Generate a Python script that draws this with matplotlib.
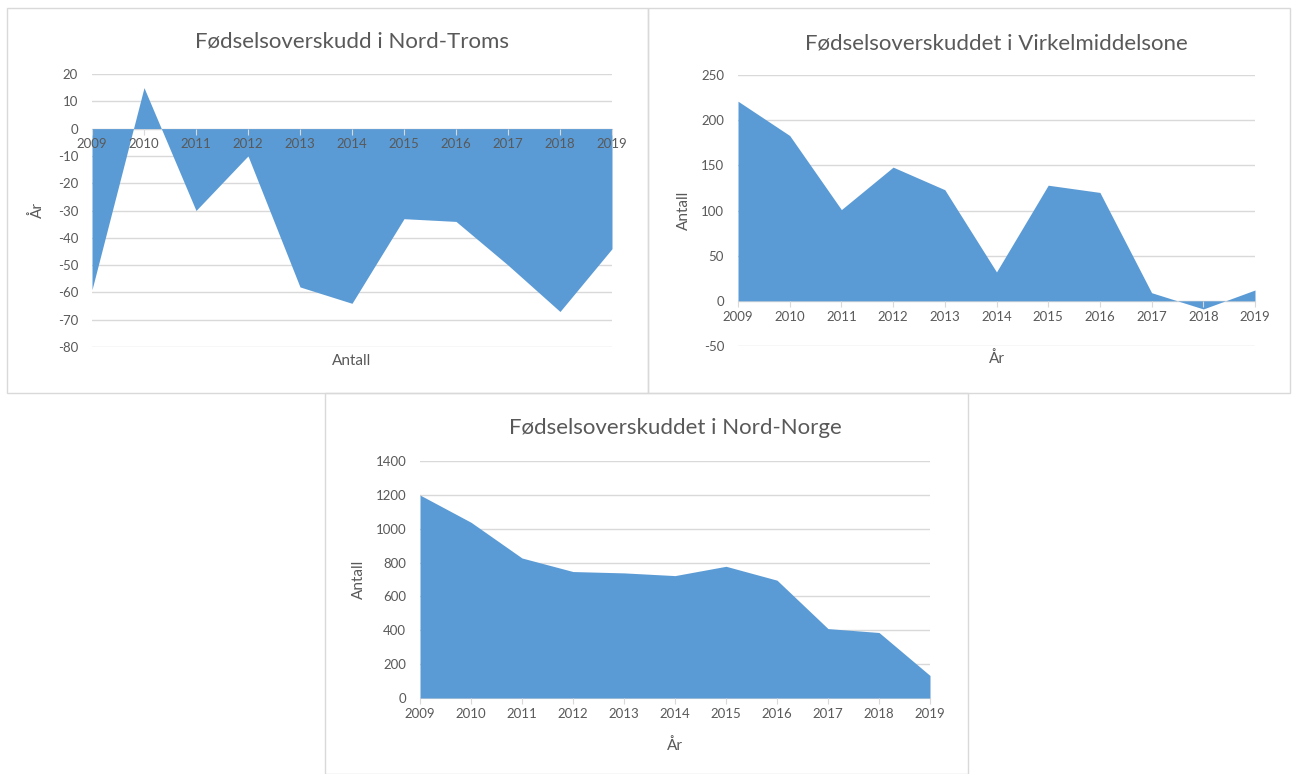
import numpy as np
import matplotlib.pyplot as plt
from matplotlib.patches import Rectangle

plt.rcParams['font.family'] = ['Lato', 'DejaVu Sans']
plt.rcParams['axes.unicode_minus'] = False

years = [2009, 2010, 2011, 2012, 2013, 2014, 2015, 2016, 2017, 2018, 2019]

# Fødselsoverskudd (antall)
nord_troms = [-59, 15, -30, -10, -58, -64, -33, -34, -50, -67, -44]
virkelmiddelsone = [221, 183, 101, 148, 123, 32, 128, 120, 9, -9, 12]
nord_norge = [1199, 1038, 827, 747, 739, 723, 778, 696, 410, 387, 133]

titles = ["Fødselsoverskudd i Nord-Troms",
          "Fødselsoverskuddet i Virkelmiddelsone",
          "Fødselsoverskuddet i Nord-Norge"]

fill = "#5B9BD5"
grid = "#D9D9D9"
txt = "#595959"

W, H = 1293, 774
fig = plt.figure(figsize=(W / 100, H / 100), dpi=100)
fig.patch.set_facecolor("white")

# rammer rundt hvert diagram (piksler: x0, y0, x1, y1)
for x0, y0, x1, y1 in [(7, 8, 648, 393), (648, 8, 1290, 393), (325, 393, 968, 774)]:
    fig.patches.append(Rectangle((x0 / W, 1 - y1 / H), (x1 - x0) / W, (y1 - y0) / H,
                                 transform=fig.transFigure, fill=False,
                                 edgecolor=grid, linewidth=1))


def px_axes(x0, y0, x1, y1):
    return fig.add_axes([x0 / W, 1 - y1 / H, (x1 - x0) / W, (y1 - y0) / H])


def style(ax, vals, ylim, step, title, xlabel, ylabel, title_y, xlabel_y, ylabel_x):
    ax.fill_between(years, vals, 0, color=fill, linewidth=0, zorder=2)
    ax.set_xlim(years[0], years[-1])
    ax.set_ylim(*ylim)
    ax.set_yticks(np.arange(ylim[0], ylim[1] + step / 2, step))
    ax.set_xticks(years)
    ax.grid(axis='y', color=grid, linewidth=1)
    for s in ['left', 'right', 'top']:
        ax.spines[s].set_visible(False)
    ax.spines['bottom'].set_position(('data', 0))
    ax.spines['bottom'].set_color(grid)
    ax.spines['bottom'].set_zorder(1)
    ax.tick_params(axis='y', length=0, labelsize=9.5, labelcolor=txt, pad=10)
    ax.tick_params(axis='x', length=4, color=grid, labelsize=9.5, labelcolor=txt, pad=3)
    ax.set_axisbelow(True)
    ax.xaxis.set_zorder(4)  # årstall over flaten
    ax.set_title(title, fontsize=16, color=txt, y=title_y)
    ax.text(0.5, xlabel_y, xlabel, transform=ax.transAxes, ha='center', va='center',
            fontsize=11, color=txt)
    ax.text(ylabel_x, 0.5, ylabel, transform=ax.transAxes, ha='center', va='center',
            rotation=90, fontsize=11, color=txt)


ax1 = px_axes(92, 74, 612, 347)
style(ax1, nord_troms, (-80, 20), 10, titles[0], "Antall", "År", 1.065, -0.05, -0.105)

ax2 = px_axes(738, 75, 1255, 346)
style(ax2, virkelmiddelsone, (-50, 250), 50, titles[1], "År", "Antall", 1.065, -0.045, -0.105)

ax3 = px_axes(420, 461, 930, 698)
style(ax3, nord_norge, (0, 1400), 200, titles[2], "År", "Antall", 1.08, -0.2, -0.12)

fig.savefig("out.png", dpi=100, facecolor="white")
